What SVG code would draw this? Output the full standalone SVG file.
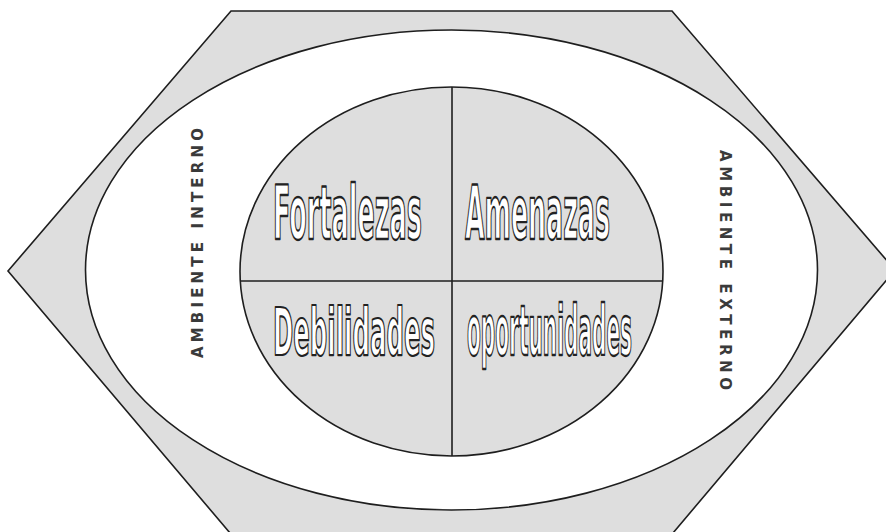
<svg xmlns="http://www.w3.org/2000/svg" width="886" height="532" viewBox="0 0 886 532">
<style>
.shape{stroke:#1e1e1e;stroke-width:1.6}
.grey{fill:#dedede}
.white{fill:#ffffff}
.quad{font-family:"DejaVu Sans Condensed","DejaVu Sans",sans-serif;font-weight:bold;fill:#ffffff;stroke:#222222;stroke-width:1.7;stroke-linejoin:round}
.side{font-family:"DejaVu Sans",sans-serif;font-weight:bold;font-size:15px;fill:#3a3a3a}
</style>
<rect width="886" height="532" fill="#ffffff"/>
<g id="hexagon">
<polygon class="shape grey" points="231,11 672,11 895,270 673,533 230,533 8,271"/>
</g>
<g id="outer-ellipse">
<ellipse class="shape white" cx="451.5" cy="270" rx="366" ry="240"/>
</g>
<g id="inner-ellipse">
<ellipse class="shape grey" cx="451.5" cy="271.5" rx="211.5" ry="184.5"/>
</g>
<g id="connectors">
<line class="shape" x1="452" y1="87" x2="452" y2="456"/>
<line class="shape" x1="240" y1="281" x2="663" y2="281"/>
</g>
<g id="fortalezas">
<text class="quad" transform="translate(273,239) scale(1,2.7)" font-size="28" textLength="149" lengthAdjust="spacingAndGlyphs" vector-effect="non-scaling-stroke">Fortalezas</text>
</g>
<g id="amenazas">
<text class="quad" transform="translate(465,239) scale(1,2.7)" font-size="28" textLength="145" lengthAdjust="spacingAndGlyphs" vector-effect="non-scaling-stroke">Amenazas</text>
</g>
<g id="debilidades">
<text class="quad" transform="translate(273,355) scale(1,2.45)" font-size="27" textLength="162" lengthAdjust="spacingAndGlyphs" vector-effect="non-scaling-stroke">Debilidades</text>
</g>
<g id="oportunidades">
<text class="quad" transform="translate(467,355) scale(1,3.05)" font-size="22.5" textLength="165" lengthAdjust="spacingAndGlyphs" vector-effect="non-scaling-stroke">oportunidades</text>
</g>
<g id="ambiente-interno">
<text class="side" transform="translate(203,358) rotate(-90)" textLength="230" lengthAdjust="spacing">AMBIENTE INTERNO</text>
</g>
<g id="ambiente-externo">
<text class="side" transform="translate(720,150) rotate(90)" textLength="240" lengthAdjust="spacing">AMBIENTE EXTERNO</text>
</g>
</svg>
